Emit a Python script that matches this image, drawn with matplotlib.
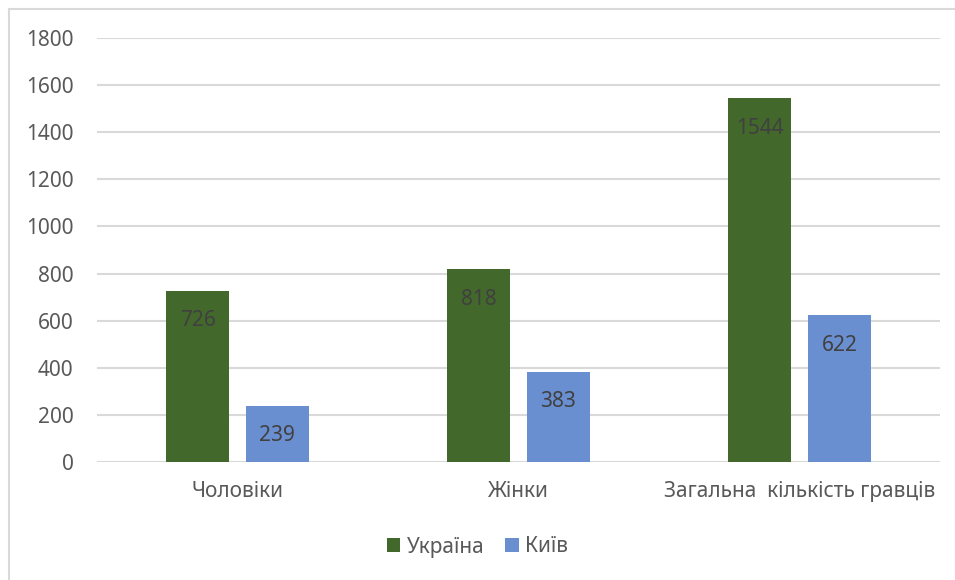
import numpy as np
import matplotlib.pyplot as plt
from matplotlib.lines import Line2D

categories = ["Чоловіки", "Жінки", "Загальна  кількість гравців"]
ukraine = [726, 818, 1544]
kyiv = [239, 383, 622]
series_names = ["Україна", "Київ"]
y_ticks = [0, 200, 400, 600, 800, 1000, 1200, 1400, 1600, 1800]

green = "#43682b"
blue = "#6a8fd0"
grid_grey = "#d9d9d9"
tick_grey = "#595959"
label_grey = "#404040"

plt.rcParams["font.family"] = ["Noto Sans", "DejaVu Sans"]

fig = plt.figure(figsize=(9.55, 5.8), dpi=100)
ax = fig.add_axes([97 / 955, 1 - 462 / 580, 843 / 955, 424 / 580])

x = np.arange(len(categories))
width = 0.224
offset = 0.142
bars_ua = ax.bar(x - offset, ukraine, width, color=green, label=series_names[0], zorder=2)
bars_kv = ax.bar(x + offset, kyiv, width, color=blue, label=series_names[1], zorder=2)

for bars in (bars_ua, bars_kv):
    for b in bars:
        ax.annotate(f"{int(b.get_height())}",
                    (b.get_x() + b.get_width() / 2, b.get_height()),
                    xytext=(0, -21.5), textcoords="offset points",
                    ha="center", va="center", fontsize=15, color=label_grey, zorder=3)

ax.set_xlim(-0.5, len(categories) - 0.5)
ax.set_ylim(0, 1800)
ax.set_yticks(y_ticks)
ax.set_xticks(x)
ax.set_xticklabels(categories)
ax.tick_params(axis="both", length=0, labelsize=15, labelcolor=tick_grey)
ax.tick_params(axis="y", pad=17)
ax.tick_params(axis="x", pad=14)
ax.yaxis.grid(True, color=grid_grey, linewidth=1.5, zorder=0)
ax.set_axisbelow(True)
for s in ax.spines.values():
    s.set_visible(False)

fig.legend(handles=[bars_ua, bars_kv], labels=series_names, loc="center",
           bbox_to_anchor=(0.5, 1 - 547 / 580), ncol=2, frameon=False,
           fontsize=15, labelcolor=tick_grey, handlelength=0.65, handleheight=0.65,
           handletextpad=0.3, columnspacing=1.0)

# light border on the left and top, as in the cropped screenshot
fig.add_artist(Line2D([8.5 / 955, 8.5 / 955], [0, 1 - 8.5 / 580], color=grid_grey, lw=1.5))
fig.add_artist(Line2D([8.5 / 955, 1], [1 - 8.5 / 580, 1 - 8.5 / 580], color=grid_grey, lw=1.5))

fig.savefig("out.png", dpi=100)
